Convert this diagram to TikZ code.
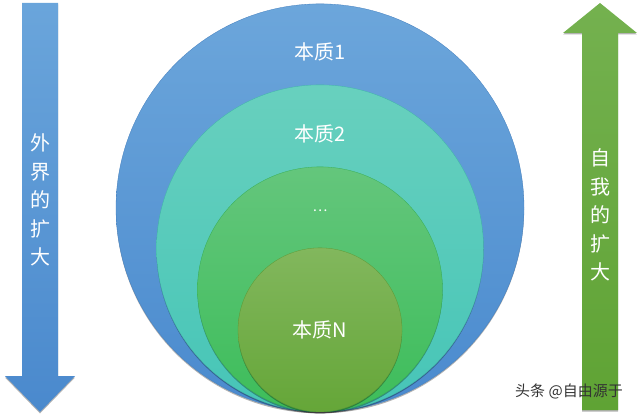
\documentclass[tikz,border=0pt]{standalone}
\usepackage{fontspec}
\setmainfont{Noto Sans CJK SC}
\usetikzlibrary{positioning,shadows}
\definecolor{ringAtop}{HTML}{6CA6DB}
\definecolor{ringAbot}{HTML}{4A8ACE}
\definecolor{ringBtop}{HTML}{68D0BE}
\definecolor{ringBbot}{HTML}{46C5B7}
\definecolor{ringCtop}{HTML}{64C67C}
\definecolor{ringCbot}{HTML}{3DBD5A}
\definecolor{ringDtop}{HTML}{82B75D}
\definecolor{ringDbot}{HTML}{65A638}
\definecolor{arrowBtop}{HTML}{6AA5DB}
\definecolor{arrowBbot}{HTML}{4A89CD}
\definecolor{arrowGtop}{HTML}{74B14F}
\definecolor{arrowGbot}{HTML}{5FA334}
\tikzset{
  soft shadow/.style={drop shadow={shadow xshift=0pt, shadow yshift=-1.5pt, opacity=.3, fill=black}},
  raw ring/.style={circle, inner sep=0pt, line width=.3pt, minimum size=#1, anchor=south, soft shadow},
  ring a/.style={raw ring=408pt, top color=ringAtop, bottom color=ringAbot, draw=ringAbot!92!black},
  ring b/.style={raw ring=327pt, top color=ringBtop, bottom color=ringBbot, draw=ringBbot!92!black},
  ring c/.style={raw ring=245pt, top color=ringCtop, bottom color=ringCbot, draw=ringCbot!92!black},
  ring d/.style={raw ring=164pt, top color=ringDtop, bottom color=ringDbot, draw=ringDbot!92!black},
  ring label/.style={text=white, font=\fontsize{20}{24}\selectfont, inner sep=0pt},
  side text/.style={text=white, align=center, font=\fontsize{20}{28.5}\selectfont, inner sep=0pt},
  blue shaft/.style={top color=arrowBtop, bottom color=arrowBbot, soft shadow},
  green shaft/.style={top color=arrowGtop, bottom color=arrowGbot, soft shadow},
  watermark/.style={text=black!80, font=\fontsize{15}{18}\selectfont, inner sep=0pt}
}

\begin{document}
\begin{tikzpicture}[x=1pt, y=1pt]
  \useasboundingbox (0,0) rectangle (640,418);

  % side arrows
  \path[blue shaft] (22,415) -- (58,415) -- (58,42) -- (75,42) -- (40,6) -- (5,42) -- (22,42) -- cycle;
  \path[green shaft] (600,415) -- (637,385) -- (618,385) -- (618,8) -- (582,8) -- (582,385) -- (563,385) -- cycle;
  \node [side text] (lt) at (40,218) {外\\界\\的\\扩\\大};
  \node [side text] (rt) at (600,203) {自\\我\\的\\扩\\大};

  % nested rings, all touching at the bottom
  \coordinate (base) at (320,6);
  \node [ring a] (r1) at (base) {};
  \node [ring b] (r2) at (base) {};
  \node [ring c] (r3) at (base) {};
  \node [ring d] (r4) at (base) {};

  \node [ring label] (l1) at ([yshift=-48pt]r1.north) {本质1};
  \node [ring label] (l2) at ([yshift=-49pt]r2.north) {本质2};
  \node [ring label, font=\fontsize{14}{16}\selectfont] (l3) at ([yshift=-44pt]r3.north) {…};
  \node [ring label] (l4) at (r4.center) {本质N};

  \node [watermark] (wm) at (569,27) {头条 @自由源于};
\end{tikzpicture}
\end{document}
